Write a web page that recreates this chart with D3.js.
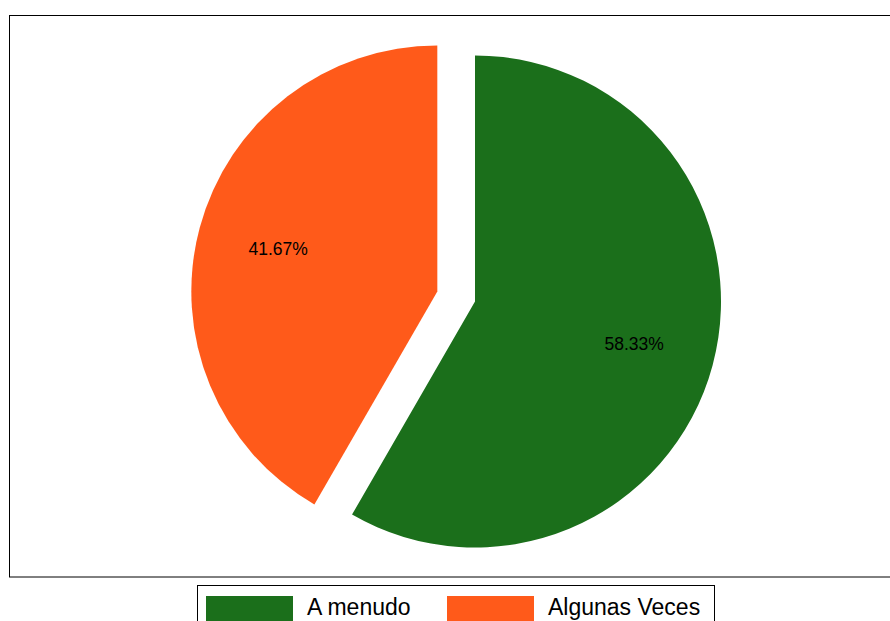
<!DOCTYPE html>
<html><head><meta charset="utf-8">
<script src="https://cdn.jsdelivr.net/npm/d3@7"></script>
<style>body{margin:0;background:#fff}svg{display:block}</style>
</head><body>
<svg id="c" width="890" height="621"></svg>
<script>
const categories = ["A menudo", "Algunas Veces"];
const values = [58.33, 41.67];
const colors = ["#1b6f1b", "#ff5a1a"];
const explode = [0, 39];

const svg = d3.select("#c");
const cx = 475, cy = 301.5, r = 246;

svg.append("rect").attr("x", 9.5).attr("y", 15.5).attr("width", 890).attr("height", 561.5)
  .attr("fill", "none").attr("stroke", "#000").attr("stroke-width", 1);

const pie = d3.pie().sort(null).value(d => d)(values);
const arc = d3.arc().innerRadius(0).outerRadius(r);
const g = svg.append("g").attr("transform", `translate(${cx},${cy})`);

pie.forEach((p, i) => {
  const mid = (p.startAngle + p.endAngle) / 2;
  const dx = Math.sin(mid) * explode[i], dy = -Math.cos(mid) * explode[i];
  const sg = g.append("g").attr("transform", `translate(${dx},${dy})`);
  sg.append("path").attr("d", arc(p)).attr("fill", colors[i]);
  const lr = 0.67 * r;
  sg.append("text").attr("x", Math.sin(mid) * lr).attr("y", -Math.cos(mid) * lr)
    .attr("text-anchor", "middle").attr("dy", "0.35em")
    .attr("font-family", "Liberation Sans, Arial, sans-serif").attr("font-size", 17.5)
    .attr("fill", "#000").text(values[i].toFixed(2) + "%");
});

// legend
const lg = svg.append("g");
lg.append("rect").attr("x", 197.5).attr("y", 585.5).attr("width", 517).attr("height", 60)
  .attr("fill", "#fff").attr("stroke", "#000").attr("stroke-width", 1);
const lx = [206, 447];
categories.forEach((c, i) => {
  lg.append("rect").attr("x", lx[i]).attr("y", 596).attr("width", 87).attr("height", 26).attr("fill", colors[i]);
  lg.append("text").attr("x", lx[i] + 101).attr("y", 615)
    .attr("font-family", "Liberation Sans, Arial, sans-serif").attr("font-size", 23)
    .attr("fill", "#000").text(c);
});
</script>
</body></html>
